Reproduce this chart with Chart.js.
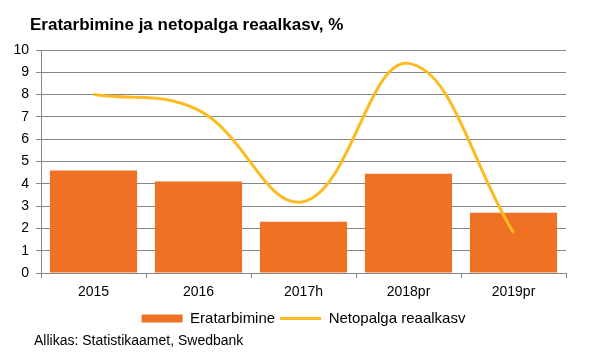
<!DOCTYPE html>
<html>
<head>
<meta charset="utf-8">
<script src="https://cdn.jsdelivr.net/npm/chart.js@4.4.1/dist/chart.umd.min.js"></script>
<style>
  html, body { margin: 0; padding: 0; background: #fff; }
  #wrap { width: 591px; height: 354px; }
</style>
</head>
<body>
<div id="wrap"><canvas id="myChart" width="591" height="354"></canvas></div>
<script>
const years = ["2015", "2016", "2017h", "2018pr", "2019pr"];
const consumption = [4.6, 4.1, 2.3, 4.45, 2.7];
const realWage = [8.0, 7.3, 3.2, 9.4, 1.8];
const yTicks = [0, 1, 2, 3, 4, 5, 6, 7, 8, 9, 10];

const titleText = "Eratarbimine ja netopalga reaalkasv, %";
const sourceText = "Allikas: Statistikaamet, Swedbank";

const orange = "#EE7124";
const yellow = "#FDBB21";
const gridGray = "#868686";

// title and source line drawn straight on the canvas
const textPlugin = {
  id: "texts",
  afterDraw(chart) {
    const c = chart.ctx;
    c.save();
    c.fillStyle = "#000";
    c.textBaseline = "middle";
    c.textAlign = "left";
    c.font = "bold 17px 'Liberation Sans', Arial, sans-serif";
    c.fillText(titleText, 30, 25);
    c.font = "14px 'Liberation Sans', Arial, sans-serif";
    c.fillText(sourceText, 34, 341);
    c.restore();
  },
};

Chart.defaults.font.family = "'Liberation Sans', Arial, sans-serif";
Chart.defaults.font.size = 14;
Chart.defaults.color = "#000";

let charts = document.getElementById("myChart").getContext("2d");

let mixChart = new Chart(charts, {
  type: "bar",
  data: {
    labels: years,
    datasets: [
      {
        type: "line",
        label: "Netopalga reaalkasv",
        data: realWage,
        borderColor: yellow,
        backgroundColor: yellow,
        borderWidth: 3,
        tension: 0.4,
        pointRadius: 0,
        pointHoverRadius: 0,
        pointStyle: "line",
        pointBorderColor: yellow,
        pointBorderWidth: 3,
        order: 1,
      },
      {
        label: "Eratarbimine",
        data: consumption,
        backgroundColor: orange,
        borderWidth: 0,
        categoryPercentage: 0.83,
        barPercentage: 1,
        pointStyle: "rect",
        order: 2,
      },
    ],
  },
  plugins: [textPlugin],
  options: {
    responsive: false,
    animation: false,
    layout: {
      padding: { top: 50, left: 0, right: 25, bottom: 18 },
    },
    plugins: {
      legend: {
        position: "bottom",
        fullSize: false,
        reverse: true,
        labels: {
          usePointStyle: true,
          pointStyleWidth: 41,
          boxWidth: 41,
          boxHeight: 8,
          padding: 5,
          font: { size: 15 },
        },
      },
      tooltip: { enabled: false },
    },
    scales: {
      y: {
        min: 0,
        max: 10,
        afterFit(scale) {
          scale.width = 41;
        },
        afterBuildTicks(scale) {
          scale.ticks = yTicks.map((v) => ({ value: v }));
        },
        grid: {
          color: gridGray,
          tickLength: 5,
        },
        border: { color: gridGray },
        ticks: { padding: 7 },
      },
      x: {
        afterFit(scale) {
          scale.height = 33;
        },
        grid: {
          drawOnChartArea: false,
          offset: true,
          color: gridGray,
          tickLength: 5,
        },
        border: { color: gridGray },
        ticks: { padding: 6 },
      },
    },
  },
});
</script>
</body>
</html>
